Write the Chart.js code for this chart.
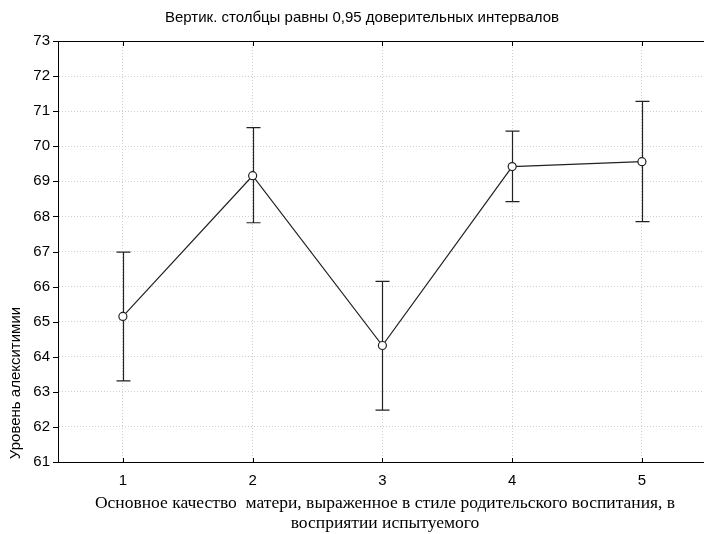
<!DOCTYPE html>
<html>
<head>
<meta charset="utf-8">
<script src="https://cdn.jsdelivr.net/npm/chart.js@4/dist/chart.umd.min.js"></script>
<style>
  html, body { margin: 0; padding: 0; background: #fff; overflow: hidden; }
  #wrap { width: 704px; height: 534px; overflow: hidden; }
  canvas { display: block; }
</style>
</head>
<body>
<div id="wrap"><canvas id="chart" width="712" height="534"></canvas></div>
<script>
const categories = ["1", "2", "3", "4", "5"];
const means = [65.15, 69.16, 64.32, 69.42, 69.56];
const upper = [66.98, 70.53, 66.15, 70.43, 71.28];
const lower = [63.31, 67.82, 62.48, 68.42, 67.85];

const chartTitle = "Вертик. столбцы равны 0,95 доверительных интервалов";
const xTitle = ["Основное качество  матери, выраженное в стиле родительского воспитания, в", "восприятии испытуемого"];
const yTitle = "Уровень алекситимии";

const sans = "'Liberation Sans', Arial, sans-serif";
const serif = "'Liberation Serif', 'Times New Roman', serif";

// усы доверительных интервалов
const errorBars = {
    id: "errorBars",
    beforeDatasetsDraw(chart) {
        const ctx = chart.ctx;
        const x = chart.scales.x, y = chart.scales.y;
        ctx.save();
        ctx.strokeStyle = "#222";
        ctx.lineWidth = 1.2;
        for (let i = 0; i < means.length; i++) {
            const px = Math.round(x.getPixelForValue(i)) + 0.5;
            const top = y.getPixelForValue(upper[i]);
            const bot = y.getPixelForValue(lower[i]);
            ctx.beginPath();
            ctx.moveTo(px, top); ctx.lineTo(px, bot);
            ctx.moveTo(px - 7, top); ctx.lineTo(px + 7, top);
            ctx.moveTo(px - 7, bot); ctx.lineTo(px + 7, bot);
            ctx.stroke();
        }
        ctx.restore();
    }
};

// рамка, засечки и подписи
const frame = {
    id: "frame",
    afterDraw(chart) {
        const ctx = chart.ctx;
        const a = chart.chartArea;
        const x = chart.scales.x, y = chart.scales.y;
        ctx.save();
        ctx.strokeStyle = "#000";
        ctx.lineWidth = 1;
        ctx.beginPath();
        ctx.moveTo(a.left, a.top + 0.5); ctx.lineTo(a.right, a.top + 0.5);
        for (let i = 0; i < categories.length; i++) {
            const px = Math.round(x.getPixelForValue(i)) + 0.5;
            ctx.moveTo(px, a.top); ctx.lineTo(px, a.top + 5);
            ctx.moveTo(px, a.bottom); ctx.lineTo(px, a.bottom - 4);
        }
        y.ticks.forEach(t => {
            const py = Math.round(y.getPixelForValue(t.value)) + 0.5;
            ctx.moveTo(a.left - 5, py); ctx.lineTo(a.left, py);
        });
        ctx.stroke();

        ctx.fillStyle = "#000";
        ctx.textAlign = "center";
        ctx.textBaseline = "middle";
        ctx.font = "15px " + sans;
        ctx.fillText(chartTitle, 362, 18);

        ctx.font = "17.5px " + serif;
        ctx.fillText(xTitle[0], 385, 503);
        ctx.fillText(xTitle[1], 385, 523);

        ctx.font = "15px " + sans;
        ctx.translate(16, 383);
        ctx.rotate(-Math.PI / 2);
        ctx.fillText(yTitle, 0, 0);
        ctx.restore();
    }
};

new Chart(document.getElementById("chart"), {
    type: "line",
    data: {
        labels: categories,
        datasets: [{
            data: means,
            borderColor: "#222",
            borderWidth: 1.2,
            pointRadius: 4,
            pointBackgroundColor: "#fff",
            pointBorderColor: "#222",
            pointBorderWidth: 1.2,
            tension: 0
        }]
    },
    options: {
        responsive: false,
        animation: false,
        devicePixelRatio: 1,
        layout: { padding: { top: 41, right: 2.5, left: 0, bottom: 0 } },
        plugins: { legend: { display: false }, tooltip: { enabled: false } },
        scales: {
            x: {
                offset: true,
                grid: { offset: false, color: "#cfcfcf", drawTicks: false },
                border: { color: "#000", width: 1, dash: [1, 2] },
                ticks: { color: "#000", padding: 10, font: { family: sans, size: 15 } },
                afterFit(s) { s.height = 72; }
            },
            y: {
                min: 61,
                max: 73,
                grid: { color: "#cfcfcf", drawTicks: false },
                border: { color: "#000", width: 1, dash: [1, 2] },
                ticks: { stepSize: 1, color: "#000", padding: 8, font: { family: sans, size: 15 } },
                afterFit(s) { s.width = 58; }
            }
        }
    },
    plugins: [errorBars, frame]
});
</script>
</body>
</html>
